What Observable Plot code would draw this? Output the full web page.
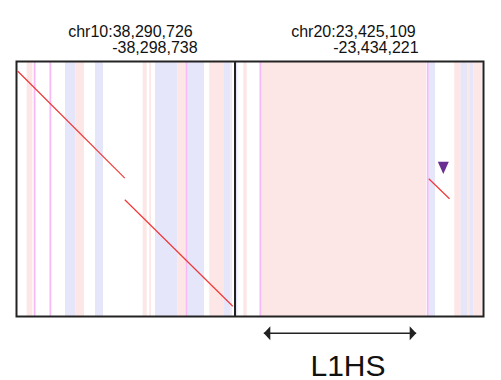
<!DOCTYPE html>
<html>
<head>
<meta charset="utf-8">
<script src="https://cdn.jsdelivr.net/npm/d3@7"></script>
<script src="https://cdn.jsdelivr.net/npm/@observablehq/plot@0.6"></script>
<style>
  html, body { margin: 0; padding: 0; background: #fff; }
  #chart { width: 501px; height: 380px; }
</style>
</head>
<body>
<div id="chart"></div>
<script>
// ---- Data ----
const panelChrom = ["chr10", "chr20"];
const panelStart = [38290726, 23425109];
const panelEnd   = [38298738, 23434221];
const titleLine1 = ["chr10:38,290,726", "chr20:23,425,109"];
const titleLine2 = ["-38,298,738", "-23,434,221"];
const queryLength = 9350;

// repeat bands: [panel, startOffset, endOffset]
const pinkBands = [
  [0, 392, 598], [0, 2182, 2493], [0, 4646, 4792], [0, 4888, 4950],
  [0, 5915, 6197], [0, 7088, 7601], [0, 7865, 7920],
  [1, 322, 447], [1, 961, 7022], [1, 8059, 8294], [1, 8536, 8635], [1, 8756, 9064]
];
const blueBands = [
  [0, 1797, 2182], [0, 2897, 3190], [0, 5097, 5915], [0, 6259, 6893], [0, 7601, 7865],
  [1, 18, 103], [1, 7106, 7352], [1, 8294, 8536], [1, 8635, 8756]
];
const magentaLines = [
  [0, 664], [0, 1241], [0, 6228], [1, 929], [1, 7065]
];

// alignments: panel, target start/end (offset), query start/end
const alnPanel  = [0, 0, 1];
const alnTStart = [48, 3971, 7106];
const alnTEnd   = [3971, 7931, 7865];
const alnQStart = [356, 5071, 4301];
const alnQEnd   = [4279, 8973, 5034];

// marker (triangle)
const markerPanel = [1];
const markerT = [7638];
const markerQ = [3894];

// L1HS annotation
const annoPanel = [1];
const annoStart = [1056];
const annoEnd = [6644];
const annoLabel = ["L1HS"];

// ---- Layout (styles / offsets) ----
const titleDx = [[51.7, 95.7], [56.2, 98.2]];

const len0 = panelEnd[0] - panelStart[0];
const len1 = panelEnd[1] - panelStart[1];
const gx = (p, off) => off + (p === 1 ? len0 : 0);

const toRects = (arr) => arr.map(([p, s, e]) => ({x1: gx(p, s), x2: gx(p, e)}));
const alns = alnPanel.map((p, i) => ({
  x1: gx(p, alnTStart[i]), x2: gx(p, alnTEnd[i]), y1: alnQStart[i], y2: alnQEnd[i]
}));
const markers = markerPanel.map((p, i) => ({x: gx(p, markerT[i]), y: markerQ[i]}));
const annos = annoPanel.map((p, i) => ({
  x1: gx(p, annoStart[i]), x2: gx(p, annoEnd[i]),
  xm: gx(p, (annoStart[i] + annoEnd[i]) / 2), y: queryLength, label: annoLabel[i]
}));

const downTri = { draw(ctx) { ctx.moveTo(-5.5, -6); ctx.lineTo(5.5, -6); ctx.lineTo(0, 6.3); ctx.closePath(); } };
const headLeft = { draw(ctx) { ctx.moveTo(0, 0); ctx.lineTo(6.5, -7); ctx.lineTo(6.5, 7); ctx.closePath(); } };
const headRight = { draw(ctx) { ctx.moveTo(0, 0); ctx.lineTo(-6.5, -7); ctx.lineTo(-6.5, 7); ctx.closePath(); } };

const titleMarks = [];
[0, 1].forEach(p => {
  titleMarks.push(Plot.text([p], {
    x: d => gx(d, 0), y: () => 0, text: d => titleLine1[d],
    textAnchor: "start", dx: titleDx[p][0], dy: -29.4, fontSize: 16, fill: "#111"
  }));
  titleMarks.push(Plot.text([p], {
    x: d => gx(d, 0), y: () => 0, text: d => titleLine2[d],
    textAnchor: "start", dx: titleDx[p][1], dy: -13.6, fontSize: 16, fill: "#111"
  }));
});

const chart = Plot.plot({
  width: 501,
  height: 380,
  marginLeft: 16,
  marginRight: 18,
  marginTop: 61,
  marginBottom: 64,
  style: { fontFamily: "'Liberation Sans', Arial, sans-serif", background: "#fff" },
  x: { domain: [0, len0 + len1], axis: null },
  y: { domain: [0, queryLength], reverse: true, axis: null },
  marks: [
    Plot.rect(toRects(pinkBands), { x1: "x1", x2: "x2", fill: "#fde6e6" }),
    Plot.rect(toRects(blueBands), { x1: "x1", x2: "x2", fill: "#e6e6fb" }),
    Plot.ruleX(magentaLines.map(([p, o]) => gx(p, o)), { stroke: "#f7baf7", strokeWidth: 1.8 }),
    Plot.link(alns, { x1: "x1", y1: "y1", x2: "x2", y2: "y2", stroke: "#f03838", strokeWidth: 1.2 }),
    Plot.dot(markers, { x: "x", y: "y", symbol: downTri, fill: "#6a2d91", stroke: "none" }),
    Plot.frame({ stroke: "#222", strokeWidth: 2 }),
    Plot.ruleX([len0], { stroke: "#222", strokeWidth: 2 }),
    // L1HS double arrow
    Plot.link(annos, { x1: "x1", x2: "x2", y1: "y", y2: "y", dy: 16.7, stroke: "#222", strokeWidth: 1.4, clip: false }),
    Plot.dot(annos, { x: "x1", y: "y", dy: 16.7, symbol: headLeft, fill: "#222", stroke: "none", clip: false }),
    Plot.dot(annos, { x: "x2", y: "y", dy: 16.7, symbol: headRight, fill: "#222", stroke: "none", clip: false }),
    Plot.text(annos, { x: "xm", y: "y", text: "label", dx: 8, dy: 49.4, fontSize: 30, fill: "#111", clip: false }),
    ...titleMarks
  ]
});
document.getElementById("chart").appendChild(chart);
</script>
</body>
</html>
